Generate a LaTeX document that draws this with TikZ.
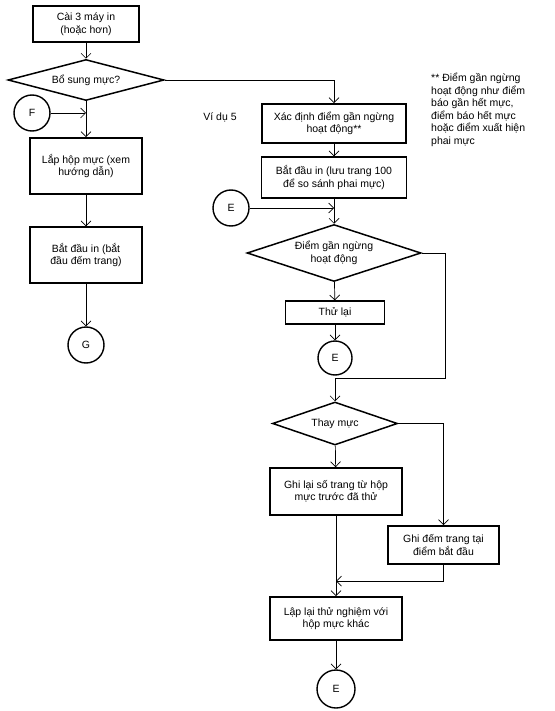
\documentclass[tikz,border=0pt]{standalone}
\usepackage{fontspec}
\setmainfont{Liberation Sans}
\usepackage{tikz}
\usetikzlibrary{shapes.geometric}
\usetikzlibrary{arrows.meta}
\tikzset{
    proc/.style={draw, line width=1.7pt, inner sep=0pt, align=center},
    procthin/.style={draw, line width=1.1pt, inner sep=0pt, align=center},
    dec/.style={draw, diamond, aspect=#1, line width=1.5pt, inner sep=0pt, align=center},
    dec/.default=3.5,
    conn/.style={draw, circle, line width=1.4pt, inner sep=0pt},
    flow/.style={line width=0.7pt, -{Straight Barb[length=5pt,width=10pt]}},
    link/.style={line width=0.7pt}
}
\begin{document}
\begin{tikzpicture}[x=1pt, y=-1pt, font=\fontsize{10.5}{12.5}\selectfont]
\useasboundingbox (0,0) rectangle (554,711);
% left column
\node[proc, minimum width=106, minimum height=36] (cai) at (86,24) {Cài 3 máy in\\(hoặc hơn)};
\node[dec=3.8, minimum width=156, minimum height=41] (bosung) at (86,80) {Bổ sung mực?};
\node[proc, minimum width=112, minimum height=56] (lap) at (86,166) {Lắp hộp mực (xem\\hướng dẫn)};
\node[procthin, minimum width=112, minimum height=56] (batdau) at (86,255) {Bắt đầu in (bắt\\đầu đếm trang)};
% right column
\node[proc, minimum width=144, minimum height=39] (xacdinh) at (334,123.5) {Xác định điểm gần ngừng\\hoạt động**};
\node[procthin, minimum width=145, minimum height=41] (luu) at (334,177.5) {Bắt đầu in (lưu trang 100\\để so sánh phai mực)};
\node[dec=3.1, minimum width=174, minimum height=57] (diemgan) at (334,253) {Điểm gần ngừng\\hoạt động};
\node[procthin, minimum width=99, minimum height=23] (thulai) at (335,312.5) {Thử lại};
\node[dec=2.9, minimum width=125, minimum height=43] (thay) at (335,423.5) {Thay mực};
\node[proc, minimum width=132, minimum height=47] (ghilai) at (336,491.5) {Ghi lại số trang từ hộp\\mực trước đã thử};
\node[proc, minimum width=111, minimum height=38] (ghidem) at (443.5,545) {Ghi đếm trang tại\\điểm bắt đầu};
\node[proc, minimum width=132, minimum height=43] (laplai) at (336,618.5) {Lập lại thử nghiệm với\\hộp mực khác};
% connectors
\foreach \x/\y/\r/\p/\labeltext in {32/113/18/cF/F, 86/345/18/cG/G, 231/208/18/cE/E, 335/358/17/cEb/E, 336/689/19/cEc/E}{
\node[conn, minimum size=2*\r] (\p) at (\x,\y) {\labeltext};
}
% texts
\node (vidu) at (220,117) {Ví dụ 5};
\node[anchor=north west, align=left, inner sep=0pt] (ghichu) at (431,73) {** Điểm gần ngừng\\hoạt động như điểm\\báo gần hết mực,\\điểm báo hết mực\\hoặc điểm xuất hiện\\phai mực};
\coordinate (r2) at (445,378);
\coordinate (j3) at (336,581);
% flow
\draw[flow] (cai) -- (bosung);
\draw[flow] (bosung) -- (lap);
\draw[flow] (cF) -- (cF -| bosung);
\draw[flow] (lap) -- (batdau);
\draw[flow] (batdau) -- (cG);
\draw[flow] (bosung.east) -| (xacdinh.north);
\draw[flow] (xacdinh) -- (luu);
\draw[flow] (luu) -- (diemgan);
\draw[flow] (cE) -- (cE -| luu);
\draw[flow] (diemgan) -- (thulai);
\draw[flow] (thulai) -- (cEb);
\draw[flow] (diemgan.east) -| (r2) -| (thay.north);
\draw[flow] (thay) -- (ghilai);
\draw[flow] (thay.east) -| (ghidem.north);
\draw[flow] (ghilai) -- (laplai);
\draw[flow] (ghidem.south) |- (j3);
\draw[flow] (laplai) -- (cEc);
\end{tikzpicture}
\end{document}
